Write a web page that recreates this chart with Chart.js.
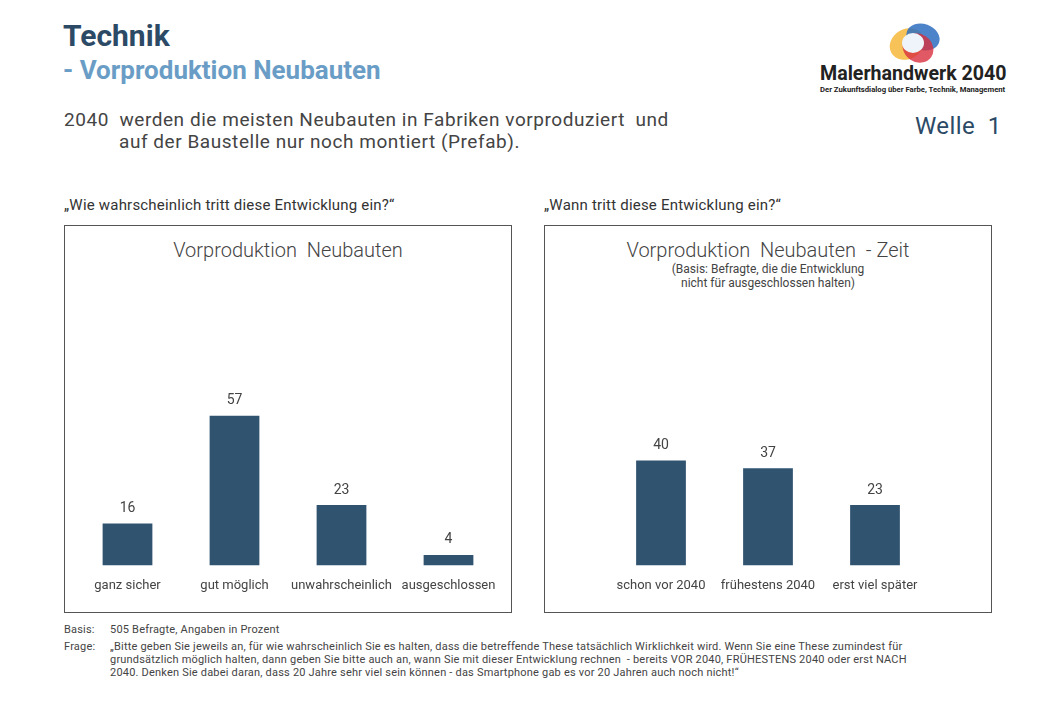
<!DOCTYPE html>
<html>
<head>
<meta charset="utf-8">
<script src="https://cdn.jsdelivr.net/npm/chart.js@4"></script>
<style>
  body { margin: 0; background: #fff; font-family: Roboto, "Open Sans", sans-serif; color: #444; }
  #page { position: relative; width: 1040px; height: 720px; overflow: hidden; }
  .abs { position: absolute; white-space: nowrap; }
  .panel { position: absolute; top: 225px; width: 448px; height: 388px; border: 1px solid #555; box-sizing: border-box; }
  .ptitle { position: absolute; left: 0; right: 0; text-align: center; font-size: 20px; font-weight: 300; color: #444; }
  .psub { position: absolute; left: 0; right: 0; text-align: center; font-size: 12px; line-height: 14px; color: #444; }
  .foot { font-size: 11px; letter-spacing: 0.2px; color: #444; }
  canvas { position: absolute; }
</style>
</head>
<body>
<div id="page">
  <div class="abs" style="left:63px; top:18px; font-size:30px; font-weight:700; color:#2c4a66;">Technik</div>
  <div class="abs" style="left:63px; top:55px; font-size:26px; font-weight:700; color:#6a9dc6;">- Vorproduktion Neubauten</div>

  <div class="abs" style="left:64px; top:109px; font-size:19px; letter-spacing:0.55px; line-height:22px; color:#444;">2040 &nbsp;werden die meisten Neubauten in Fabriken vorproduziert &nbsp;und<br><span style="padding-left:55px">auf der Baustelle nur noch montiert (Prefab).</span></div>
  <div class="abs" style="left:915px; top:112px; font-size:24px; letter-spacing:0.4px; color:#2c4a66;">Welle &nbsp;1</div>

  <!-- logo -->
  <svg class="abs" style="left:885px; top:18px;" width="60" height="46" viewBox="0 0 60 46">
    <ellipse cx="22" cy="26" rx="18" ry="15" fill="#f6b93b" opacity="0.85" transform="rotate(-30 22 26)"/>
    <ellipse cx="38" cy="19" rx="17" ry="13" fill="#2e6fc0" opacity="0.85" transform="rotate(20 38 19)"/>
    <ellipse cx="33" cy="30" rx="16" ry="14" fill="#d9303f" opacity="0.8" transform="rotate(35 33 30)"/>
    <ellipse cx="28" cy="25" rx="11" ry="10" fill="#eef4fa"/>
  </svg>
  <div class="abs" style="left:820px; top:62px; font-size:19.6px; font-weight:700; color:#222;">Malerhandwerk 2040</div>
  <div class="abs" style="left:820px; top:85px; font-size:7.7px; font-weight:700; color:#222;">Der Zukunftsdialog über Farbe, Technik, Management</div>

  <div class="abs" style="left:64px; top:196px; font-size:15px; letter-spacing:0.2px; color:#333;">„Wie wahrscheinlich tritt diese Entwicklung ein?“</div>
  <div class="abs" style="left:544px; top:196px; font-size:15px; letter-spacing:0.2px; color:#333;">„Wann tritt diese Entwicklung ein?“</div>

  <div class="panel" style="left:64px;">
    <div class="ptitle" style="top:12px;">Vorproduktion &nbsp;Neubauten</div>
  </div>
  <div class="panel" style="left:544px;">
    <div class="ptitle" style="top:12px;">Vorproduktion &nbsp;Neubauten &nbsp;- Zeit</div>
    <div class="psub" style="top:36px;">(Basis: Befragte, die die Entwicklung<br>nicht für ausgeschlossen halten)</div>
  </div>

  <canvas id="c1" class="abs" style="left:65px; top:303px; width:446px; height:309px;"></canvas>
  <canvas id="c2" class="abs" style="left:545px; top:303px; width:446px; height:309px;"></canvas>

  <div class="abs foot" style="left:64px; top:623px;">Basis:</div>
  <div class="abs foot" style="left:110px; top:623px;">505 Befragte, Angaben in Prozent</div>
  <div class="abs foot" style="left:64px; top:640px;">Frage:</div>
  <div class="abs foot" style="left:110px; top:640px; line-height:13px;">„Bitte geben Sie jeweils an, für wie wahrscheinlich Sie es halten, dass die betreffende These tatsächlich Wirklichkeit wird. Wenn Sie eine These zumindest für<br>grundsätzlich möglich halten, dann geben Sie bitte auch an, wann Sie mit dieser Entwicklung rechnen &nbsp;- bereits VOR 2040, FRÜHESTENS 2040 oder erst NACH<br>2040. Denken Sie dabei daran, dass 20 Jahre sehr viel sein können - das Smartphone gab es vor 20 Jahren auch noch nicht!“</div>
</div>

<script>
// Daten
const categoriesChance = ["ganz sicher", "gut möglich", "unwahrscheinlich", "ausgeschlossen"];
const valuesChance = [16, 57, 23, 4];

const categoriesTime = ["schon vor 2040", "frühestens 2040", "erst viel später"];
const valuesTime = [40, 37, 23];

const barColor = "#30536f";

// Werte über den Balken
const valueLabels = {
  id: "valueLabels",
  afterDatasetsDraw(chart) {
    const ctx = chart.ctx;
    const meta = chart.getDatasetMeta(0);
    ctx.save();
    ctx.font = "14px Roboto";
    ctx.fillStyle = "#444";
    ctx.textAlign = "center";
    ctx.textBaseline = "middle";
    meta.data.forEach((bar, i) => {
      ctx.fillText(chart.data.datasets[0].data[i], bar.x, bar.y - 15);
    });
    ctx.restore();
  }
};

function makeChart(id, labels, values, sidePad) {
  return new Chart(document.getElementById(id), {
    type: "bar",
    data: {
      labels: labels,
      datasets: [{
        data: values,
        backgroundColor: barColor,
        categoryPercentage: 1,
        barPercentage: 0.465
      }]
    },
    options: {
      responsive: false,
      animation: false,
      layout: { padding: { left: sidePad, right: sidePad, top: 0, bottom: 5 } },
      plugins: { legend: { display: false }, tooltip: { enabled: false } },
      scales: {
        x: {
          grid: { display: false, drawTicks: false },
          border: { display: false },
          ticks: { padding: 13, color: "#444", font: { family: "Roboto", size: 13 } }
        },
        y: { display: false, min: 0, max: 100 }
      }
    },
    plugins: [valueLabels]
  });
}

function sizeCanvas(id) {
  const c = document.getElementById(id);
  c.width = 446; c.height = 309;
}
sizeCanvas("c1"); sizeCanvas("c2");

makeChart("c1", categoriesChance, valuesChance, 9);
makeChart("c2", categoriesTime, valuesTime, 62.5);
</script>
</body>
</html>
